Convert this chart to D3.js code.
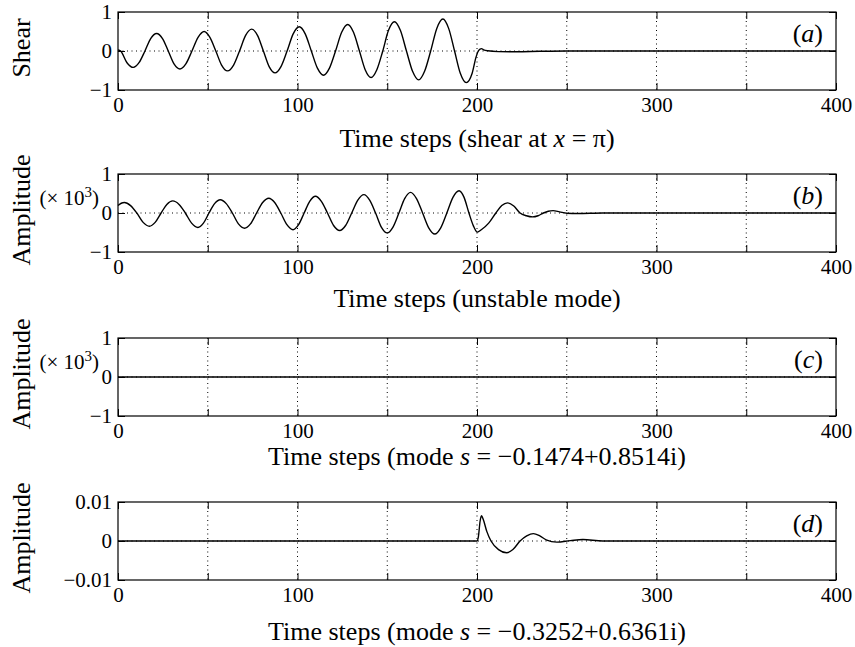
<!DOCTYPE html>
<html>
<head>
<meta charset="utf-8">
<script src="https://cdn.jsdelivr.net/npm/d3@7"></script>
<style>
  html, body { margin: 0; padding: 0; background: #fff; }
  svg { display: block; }
  text { font-family: "Liberation Serif", "Times New Roman", Times, serif; fill: #000; }
</style>
</head>
<body>
<svg id="chart" width="855" height="647"></svg>
<script>
// Time axis: ticks every 50 steps, labels every 100
const timeTicks = [0, 50, 100, 150, 200, 250, 300, 350, 400];
const timeGrid = [50, 100, 150, 200, 250, 300, 350];

// Panel (a): shear at x = pi  [time step, shear]
const shearSeries = [
  [0, 0.03], [1.5, 0], [5, -0.3], [8.5, -0.42], [11.7, -0.3], [15, 0],
  [18.2, 0.32], [21.5, 0.45], [24.8, 0.32], [28, 0], [31.2, -0.33], [34.5, -0.46],
  [37.8, -0.33], [41.2, 0], [44.6, 0.35], [48, 0.50], [51.2, 0.35], [54.5, 0],
  [57.7, -0.36], [61, -0.51], [64.4, -0.36], [67.7, 0], [71.1, 0.40], [74.5, 0.56],
  [77.7, 0.40], [81, 0], [84.2, -0.40], [87.5, -0.56], [90.8, -0.40], [94.2, 0],
  [97.6, 0.44], [101, 0.62], [104.3, 0.44], [107.7, 0], [111.1, -0.44], [114.5, -0.62],
  [117.8, -0.44], [121.2, 0], [124.6, 0.48], [128, 0.68], [131.2, 0.48], [134.5, 0],
  [137.7, -0.48], [141, -0.68], [144.2, -0.48], [147.5, 0], [150.7, 0.53], [154, 0.75],
  [157.3, 0.53], [160.7, 0], [164.1, -0.52], [167.5, -0.74], [170.8, -0.52], [174.2, 0],
  [177.6, 0.58], [181, 0.82], [184.2, 0.58], [187.5, 0], [190.7, -0.57], [194, -0.81],
  [197.3, -0.57], [199.5, -0.15], [200.7, 0], [201.7, 0.05], [202.5, 0.06],
  [203.7, 0.03], [206, 0.005], [212, -0.015], [222, -0.02], [235, -0.008],
  [250, 0], [400, 0]
];

// Panel (b): unstable mode amplitude (x 10^3)
const unstableSeries = [
  [0, 0.19], [1.8, 0.25], [3.6, 0.27], [7, 0.19], [10.5, 0], [14, -0.24],
  [17.5, -0.34], [20.7, -0.24], [24, 0], [27.2, 0.22], [30.5, 0.31], [34, 0.22],
  [37.5, 0], [41, -0.26], [44.5, -0.37], [47.6, -0.26], [50.7, 0], [53.8, 0.24],
  [57, 0.34], [60.3, 0.24], [63.7, 0], [67.1, -0.28], [70.5, -0.39], [73.8, -0.28],
  [77.2, 0], [80.6, 0.27], [84, 0.38], [87.3, 0.27], [90.7, 0], [94.1, -0.30],
  [97.5, -0.43], [100.6, -0.30], [103.7, 0], [106.8, 0.30], [110, 0.43], [113.3, 0.30],
  [116.7, 0], [120.1, -0.32], [123.5, -0.45], [126.8, -0.32], [130.2, 0], [133.6, 0.33],
  [137, 0.47], [140.2, 0.33], [143.5, 0], [146.7, -0.36], [150, -0.51], [153.2, -0.36],
  [156.5, 0], [159.7, 0.37], [163, 0.53], [166.3, 0.37], [169.7, 0], [173.1, -0.38],
  [176.5, -0.54], [179.8, -0.38], [183.2, 0], [186.6, 0.40], [190, 0.57], [192.8, 0.40],
  [195.5, 0], [198, -0.33], [200.2, -0.49], [202.4, -0.43], [206.5, -0.26],
  [210.5, 0], [213.8, 0.19], [217, 0.26], [220.5, 0.18], [224, 0], [227.5, -0.07],
  [231, -0.10], [234, -0.07], [237, 0], [239.7, 0.045], [242.4, 0.06], [246, 0.03],
  [250, -0.005], [256, -0.012], [270, 0], [400, 0]
];

// Panel (c): mode s = -0.1474+0.8514i (x 10^3)
const modeCSeries = [[0, 0], [400, 0]];

// Panel (d): mode s = -0.3252+0.6361i
const modeDSeries = [
  [0, 0], [200, 0], [200.8, 0.0012], [201.7, 0.005], [202.5, 0.0065],
  [203.5, 0.0055], [205.5, 0.0024], [207.8, 0], [212, -0.0022], [216.5, -0.003],
  [220, -0.0022], [224, 0], [227.7, 0.0013], [231.4, 0.0019], [235, 0.0013],
  [238.5, 0.0003], [244.5, -0.0003], [252, 0.0001], [259, 0.0004], [270, 0], [400, 0]
];

const unitTicks = [-1, 0, 1];
const unitTickLabels = ["\u22121", "0", "1"];
const smallTicks = [-0.01, 0, 0.01];
const smallTickLabels = ["\u22120.01", "0", "0.01"];

const panels = [
  { key: "a", data: shearSeries, yTicks: unitTicks, yLabels: unitTickLabels, ylabel: "Shear", scaleNote: false,
    title: [["Time steps (shear at ", false], ["x", true], [" = \u03c0)", false]] },
  { key: "b", data: unstableSeries, yTicks: unitTicks, yLabels: unitTickLabels, ylabel: "Amplitude", scaleNote: true,
    title: [["Time steps (unstable mode)", false]] },
  { key: "c", data: modeCSeries, yTicks: unitTicks, yLabels: unitTickLabels, ylabel: "Amplitude", scaleNote: true,
    title: [["Time steps (mode ", false], ["s", true], [" = \u22120.1474+0.8514i)", false]] },
  { key: "d", data: modeDSeries, yTicks: smallTicks, yLabels: smallTickLabels, ylabel: "Amplitude", scaleNote: false,
    title: [["Time steps (mode ", false], ["s", true], [" = \u22120.3252+0.6361i)", false]] }
];

// Layout
const plotLeft = 118, plotRight = 836, plotH = 78;
const panelTops = [12, 174, 338, 502];
const titleBaselines = [147, 307, 465, 640];
const tickLen = 7;

const svg = d3.select("#chart");
const x = d3.scaleLinear().domain([0, 400]).range([plotLeft, plotRight]);

panels.forEach((p, i) => {
  const top = panelTops[i], bottom = top + plotH;
  const yMax = p.yTicks[p.yTicks.length - 1];
  const y = d3.scaleLinear().domain([-yMax, yMax]).range([bottom, top]);
  const g = svg.append("g");

  // dotted grid
  g.selectAll("line.vgrid").data(timeGrid).join("line")
    .attr("x1", d => x(d)).attr("x2", d => x(d))
    .attr("y1", top).attr("y2", bottom)
    .attr("stroke", "#000").attr("stroke-width", 1)
    .attr("stroke-dasharray", "1,3.5");
  g.append("line")
    .attr("x1", plotLeft).attr("x2", plotRight)
    .attr("y1", y(0)).attr("y2", y(0))
    .attr("stroke", "#000").attr("stroke-width", 1)
    .attr("stroke-dasharray", "1,3.5");

  // data line
  const line = d3.line().x(d => x(d[0])).y(d => y(d[1])).curve(d3.curveMonotoneX);
  g.append("path").datum(p.data)
    .attr("d", line).attr("fill", "none")
    .attr("stroke", "#000").attr("stroke-width", 1.4)
    .attr("stroke-linejoin", "round");

  // axes with inward ticks
  const fmtX = v => (v % 100 === 0 ? String(v) : "");
  const bottomAxis = d3.axisBottom(x).tickValues(timeTicks).tickFormat(fmtX)
    .tickSizeInner(-tickLen).tickSizeOuter(0).tickPadding(7);
  const topAxis = d3.axisTop(x).tickValues(timeTicks).tickFormat("")
    .tickSizeInner(-tickLen).tickSizeOuter(0);
  const leftAxis = d3.axisLeft(y).tickValues(p.yTicks)
    .tickFormat((d, k) => p.yLabels[k])
    .tickSizeInner(-tickLen).tickSizeOuter(0).tickPadding(6);
  const rightAxis = d3.axisRight(y).tickValues(p.yTicks).tickFormat("")
    .tickSizeInner(-tickLen).tickSizeOuter(0);

  const styleAxis = sel => {
    sel.select(".domain").remove();
    sel.selectAll(".tick line").attr("stroke", "#000").attr("stroke-width", 1);
    sel.selectAll(".tick text").attr("font-size", 21)
      .attr("font-family", "'Liberation Serif', 'Times New Roman', serif").attr("fill", "#000");
  };
  g.append("g").attr("transform", `translate(0,${bottom})`).call(bottomAxis).call(styleAxis);
  g.append("g").attr("transform", `translate(0,${top})`).call(topAxis).call(styleAxis);
  g.append("g").attr("transform", `translate(${plotLeft},0)`).call(leftAxis).call(styleAxis);
  g.append("g").attr("transform", `translate(${plotRight},0)`).call(rightAxis).call(styleAxis);

  // frame
  g.append("rect")
    .attr("x", plotLeft).attr("y", top)
    .attr("width", plotRight - plotLeft).attr("height", plotH)
    .attr("fill", "none").attr("stroke", "#000").attr("stroke-width", 1.2);

  // panel tag, e.g. (a)
  const tag = g.append("text")
    .attr("x", plotRight - 13).attr("y", top + 29.5)
    .attr("text-anchor", "end").attr("font-size", 26);
  tag.append("tspan").text("(");
  tag.append("tspan").attr("font-style", "italic").text(p.key);
  tag.append("tspan").text(")");

  // y-axis label
  g.append("text")
    .attr("transform", `translate(30,${top + plotH / 2 - 3}) rotate(-90)`)
    .attr("text-anchor", "middle").attr("font-size", 26)
    .text(p.ylabel);

  // scale note (x 10^3)
  if (p.scaleNote) {
    const note = g.append("text")
      .attr("x", 99).attr("y", top + 31)
      .attr("text-anchor", "end").attr("font-size", 21);
    note.append("tspan").text("(\u00d7 10");
    note.append("tspan").attr("font-size", 15).attr("dy", -8).text("3");
    note.append("tspan").attr("dy", 8).text(")");
  }

  // x-axis title
  const t = g.append("text")
    .attr("x", (plotLeft + plotRight) / 2).attr("y", titleBaselines[i])
    .attr("text-anchor", "middle").attr("font-size", 26);
  p.title.forEach(([s, it]) => {
    const ts = t.append("tspan").text(s);
    if (it) ts.attr("font-style", "italic");
  });
});
</script>
</body>
</html>
